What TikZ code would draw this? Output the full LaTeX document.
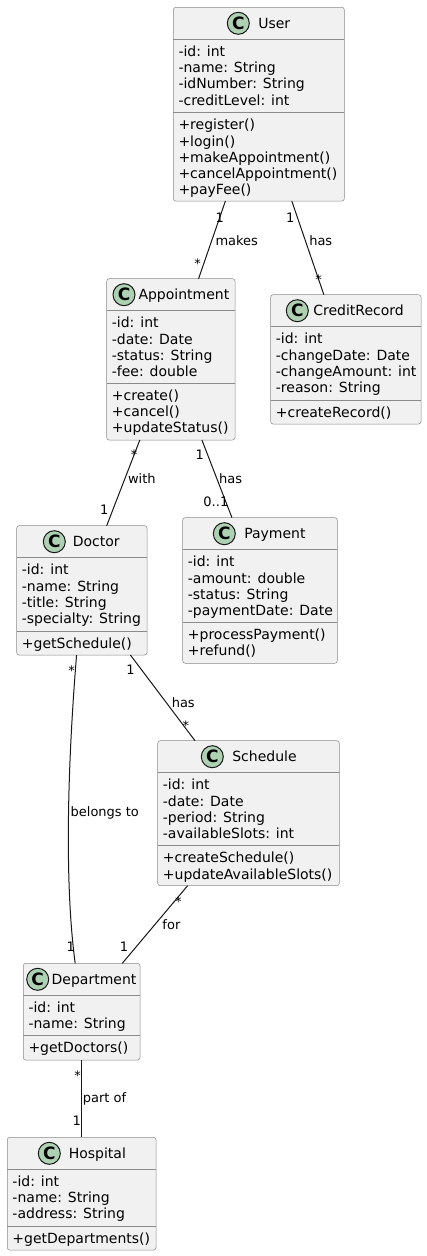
\documentclass[tikz,border=0pt]{standalone}
\usepackage{fontspec}
\setmainfont{DejaVu Sans}
\usepackage{tikz}
\usetikzlibrary{positioning}
\definecolor{umlfill}{HTML}{F1F1F1}
\definecolor{umlborder}{HTML}{181818}
\definecolor{umlgreen}{HTML}{ADD1B2}

\begin{document}
\begin{tikzpicture}[
    x=1pt, y=-1pt,
    cls/.style={rectangle, draw=umlborder!50!white, fill=umlfill, rounded corners=2.5pt, line width=0.5pt, inner sep=0, outer sep=0},
    cicon/.style={circle, draw=umlborder, fill=umlgreen, line width=1pt, minimum size=22pt, inner sep=0, outer sep=0, font=\fontsize{17}{17}\selectfont\bfseries},
    ctitle/.style={inner sep=0, outer sep=0, text height=10.2pt, text depth=0pt, font=\fontsize{14}{16.3}\selectfont},
    members/.style={anchor=north west, inner sep=0, align=left, font=\fontsize{14}{16.3}\selectfont},
    sep/.style={draw=umlborder!50!white, line width=0.5pt},
    assoc/.style={draw=umlborder, line width=1pt},
    lbl/.style={inner sep=0, font=\fontsize{13}{13}\selectfont},
]
\useasboundingbox[fill=white] (0,0) rectangle (427,1256);

% classes
\node[cls, minimum width=171, minimum height=193.7] (user) at (258.8,104.15) {};
\node[cls, minimum width=128.3, minimum height=161.3] (appt) at (170.85,359.35) {};
\node[cls, minimum width=150.3, minimum height=129.3] (credit) at (345.85,359.35) {};
\node[cls, minimum width=130.3, minimum height=129.3] (doctor) at (81.85,590.35) {};
\node[cls, minimum width=154.6, minimum height=145.6] (payment) at (260,590.5) {};
\node[cls, minimum width=181.6, minimum height=145] (schedule) at (248.5,813.2) {};
\node[cls, minimum width=116.7, minimum height=96.7] (dept) at (81.65,1011.65) {};
\node[cls, minimum width=148.7, minimum height=112.7] (hosp) at (81.65,1193.65) {};

% headers
\node[cicon] (userC) at (238.3,23.3) {C};
\node[ctitle, right=9pt of userC] (userT) {User};
\node[cicon] (apptC) at (124,294.7) {C};
\node[ctitle, right=3.5pt of apptC] (apptT) {Appointment};
\node[cicon] (creditC) at (297.3,310.7) {C};
\node[ctitle, right=5pt of creditC] (creditT) {CreditRecord};
\node[cicon] (doctorC) at (54.3,541.7) {C};
\node[ctitle, right=7.5pt of doctorC] (doctorT) {Doctor};
\node[cicon] (paymentC) at (224.3,533.7) {C};
\node[ctitle, right=9pt of paymentC] (paymentT) {Payment};
\node[cicon] (scheduleC) at (212.3,756.7) {C};
\node[ctitle, right=9pt of scheduleC] (scheduleT) {Schedule};
\node[cicon] (deptC) at (37.7,979.3) {C};
\node[ctitle, right=3pt of deptC] (deptT) {Department};
\node[cicon] (hospC) at (49.3,1153.3) {C};
\node[ctitle, right=8.5pt of hospC] (hospT) {Hospital};

% separators
\draw[sep] ([yshift=-32]user.north west) -- ([yshift=-32]user.north east);
\draw[sep] ([yshift=-105.4]user.north west) -- ([yshift=-105.4]user.north east);
\draw[sep] ([yshift=-32]appt.north west) -- ([yshift=-32]appt.north east);
\draw[sep] ([yshift=-104.6]appt.north west) -- ([yshift=-104.6]appt.north east);
\draw[sep] ([yshift=-32]credit.north west) -- ([yshift=-32]credit.north east);
\draw[sep] ([yshift=-105.6]credit.north west) -- ([yshift=-105.6]credit.north east);
\draw[sep] ([yshift=-32]doctor.north west) -- ([yshift=-32]doctor.north east);
\draw[sep] ([yshift=-105.6]doctor.north west) -- ([yshift=-105.6]doctor.north east);
\draw[sep] ([yshift=-32]payment.north west) -- ([yshift=-32]payment.north east);
\draw[sep] ([yshift=-104.6]payment.north west) -- ([yshift=-104.6]payment.north east);
\draw[sep] ([yshift=-32]schedule.north west) -- ([yshift=-32]schedule.north east);
\draw[sep] ([yshift=-105]schedule.north west) -- ([yshift=-105]schedule.north east);
\draw[sep] ([yshift=-32]dept.north west) -- ([yshift=-32]dept.north east);
\draw[sep] ([yshift=-72]dept.north west) -- ([yshift=-72]dept.north east);
\draw[sep] ([yshift=-32]hosp.north west) -- ([yshift=-32]hosp.north east);
\draw[sep] ([yshift=-89.4]hosp.north west) -- ([yshift=-89.4]hosp.north east);

% members
\node[members] (userA) at ([xshift=5,yshift=-37.4]user.north west) {\strut-id: int\\-name: String\\-idNumber: String\\-creditLevel: int};
\node[members] (userM) at ([xshift=5,yshift=-110.8]user.north west) {\strut+register()\\+login()\\+makeAppointment()\\+cancelAppointment()\\+payFee()};
\node[members] (apptA) at ([xshift=5,yshift=-37.4]appt.north west) {\strut-id: int\\-date: Date\\-status: String\\-fee: double};
\node[members] (apptM) at ([xshift=5,yshift=-110]appt.north west) {\strut+create()\\+cancel()\\+updateStatus()};
\node[members] (creditA) at ([xshift=5,yshift=-37.4]credit.north west) {\strut-id: int\\-changeDate: Date\\-changeAmount: int\\-reason: String};
\node[members] (creditM) at ([xshift=5,yshift=-111]credit.north west) {\strut+createRecord()};
\node[members] (doctorA) at ([xshift=5,yshift=-37.4]doctor.north west) {\strut-id: int\\-name: String\\-title: String\\-specialty: String};
\node[members] (doctorM) at ([xshift=5,yshift=-111]doctor.north west) {\strut+getSchedule()};
\node[members] (paymentA) at ([xshift=5,yshift=-37.4]payment.north west) {\strut-id: int\\-amount: double\\-status: String\\-paymentDate: Date};
\node[members] (paymentM) at ([xshift=5,yshift=-110]payment.north west) {\strut+processPayment()\\+refund()};
\node[members] (scheduleA) at ([xshift=5,yshift=-37.4]schedule.north west) {\strut-id: int\\-date: Date\\-period: String\\-availableSlots: int};
\node[members] (scheduleM) at ([xshift=5,yshift=-110.4]schedule.north west) {\strut+createSchedule()\\+updateAvailableSlots()};
\node[members] (deptA) at ([xshift=5,yshift=-37.4]dept.north west) {\strut-id: int\\-name: String};
\node[members] (deptM) at ([xshift=5,yshift=-77.4]dept.north west) {\strut+getDoctors()};
\node[members] (hospA) at ([xshift=5,yshift=-37.4]hosp.north west) {\strut-id: int\\-name: String\\-address: String};
\node[members] (hospM) at ([xshift=5,yshift=-94.8]hosp.north west) {\strut+getDepartments()};

% associations
\draw[assoc] (user) -- node[lbl, pos=0.21] {1} node[lbl, pos=0.51, anchor=west, xshift=3.3] {makes} node[lbl, pos=0.813, xshift=-6] {*} (appt);
\draw[assoc] (user) -- node[lbl, pos=0.176, xshift=-7.2] {1} node[lbl, pos=0.424, anchor=west, xshift=3.4] {has} node[lbl, pos=0.835] {*} (credit);
\draw[assoc] (appt) -- node[lbl, pos=0.175] {*} node[lbl, pos=0.453, anchor=west, xshift=2.7] {with} node[lbl, pos=0.815, xshift=-8.5] {1} (doctor);
\draw[assoc] (appt) -- node[lbl, pos=0.196, xshift=-8.1] {1} node[lbl, pos=0.5, anchor=west, xshift=1.8] {has} node[lbl, pos=0.797, xshift=-10] {0..1} (payment);
\draw[assoc] (doctor) .. controls (68,760) and (64,880) .. node[lbl, pos=0.05, xshift=-3.6] {*} node[lbl, pos=0.485, anchor=west, xshift=1.6] {belongs to} node[lbl, pos=0.936, xshift=-2.4] {1} (dept);
\draw[assoc] (doctor) -- node[lbl, pos=0.175, xshift=-11.1] {1} node[lbl, pos=0.557, anchor=west, xshift=4.9] {has} node[lbl, pos=0.826, xshift=2.2] {*} ([xshift=37.3]schedule.north west);
\draw[assoc] (schedule) -- node[lbl, pos=0.204, xshift=4.1] {*} node[lbl, pos=0.504, anchor=west, xshift=7.3] {for} node[lbl, pos=0.793, xshift=-11.8] {1} (dept);
\draw[assoc] (dept) -- node[lbl, pos=0.204, xshift=-4] {*} node[lbl, pos=0.498, anchor=west, xshift=0.7] {part of} node[lbl, pos=0.792, xshift=-5] {1} (hosp);
\end{tikzpicture}
\end{document}
